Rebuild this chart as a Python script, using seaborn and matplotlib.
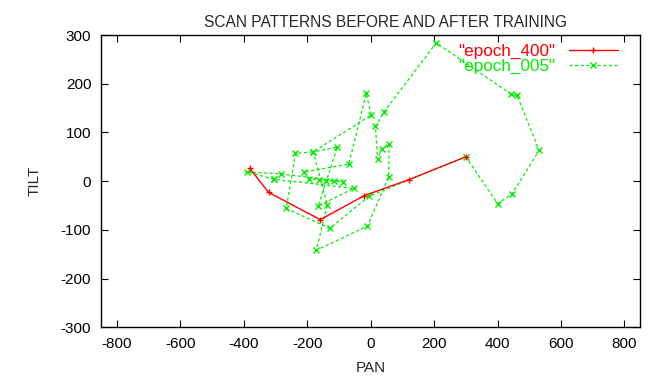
import numpy as np
import pandas as pd
import matplotlib
matplotlib.use("Agg")
import matplotlib.pyplot as plt
import seaborn as sns

# scan path after training (epoch 400)
pan_400 = [-381, -322, -159, -21, 120, 300]
tilt_400 = [26, -23, -79, -30, 3, 50]

# scan path early in training (epoch 005)
pan_005 = [-305, -390, -284, -87, -116, -142, -164, -195, -210, -69, -14, 2,
           -181, -237, -266, -129, -5, 300, 400, 445, 531, 462, 444, 207, 43,
           15, 22, 36, 58, 57, -10, -171, -137, -181, -105, -165, -54, -305]
tilt_005 = [4, 19, 15, -1, 0, 1, 3, 5, 19, 35, 180, 136,
            60, 57, -56, -97, -31, 50, -46, -27, 63, 176, 178, 284, 143,
            113, 45, 67, 77, 9, -92, -142, -48, 60, 70, -51, -15, 4]

df400 = pd.DataFrame({"PAN": pan_400, "TILT": tilt_400})
df005 = pd.DataFrame({"PAN": pan_005, "TILT": tilt_005})

sns.set_style("ticks")
plt.rcParams["font.family"] = ["Liberation Sans", "DejaVu Sans"]
plt.rcParams["axes.unicode_minus"] = False

fig = plt.figure(figsize=(6.48, 3.77), dpi=100)
ax = fig.add_axes([0.156, 0.132, 0.832, 0.775])

sns.lineplot(data=df005, x="PAN", y="TILT", sort=False, estimator=None,
             color="#00ee00", linestyle=(0, (2.5, 2)), linewidth=0.9,
             marker="x", markersize=4, markeredgewidth=1.0,
             markeredgecolor="#00ee00",
             label='"epoch_005"', ax=ax, zorder=2)
sns.lineplot(data=df400, x="PAN", y="TILT", sort=False, estimator=None,
             color="#ff0000", linewidth=1.0,
             marker="+", markersize=5, markeredgewidth=1.0,
             markeredgecolor="#ff0000",
             label='"epoch_400"', ax=ax, zorder=3)

ax.set_xlim(-850, 850)
ax.set_ylim(-300, 300)
ax.set_xticks(np.arange(-800, 801, 200))
ax.set_yticks(np.arange(-300, 301, 100))
ax.tick_params(direction="in", length=5, width=0.8, top=True, right=True,
               labelsize=11, pad=7, colors="black")
for s in ax.spines.values():
    s.set_linewidth(1.0)
    s.set_color("black")

ax.set_xlabel("PAN", fontsize=11, labelpad=7)
ax.set_ylabel("TILT", fontsize=11, labelpad=13.5)
ax.set_title("SCAN PATTERNS BEFORE AND AFTER TRAINING", fontsize=11.2,
             pad=5.5, x=0.527)

handles, labels = ax.get_legend_handles_labels()
leg = ax.legend(handles[::-1], labels[::-1], loc="upper right", frameon=False,
                markerfirst=False, handlelength=2.9, handletextpad=0.75,
                fontsize=12.3, labelcolor="linecolor", borderaxespad=0.1,
                labelspacing=0.0, bbox_to_anchor=(0.975, 1.0))

fig.savefig("out.png", dpi=100)
